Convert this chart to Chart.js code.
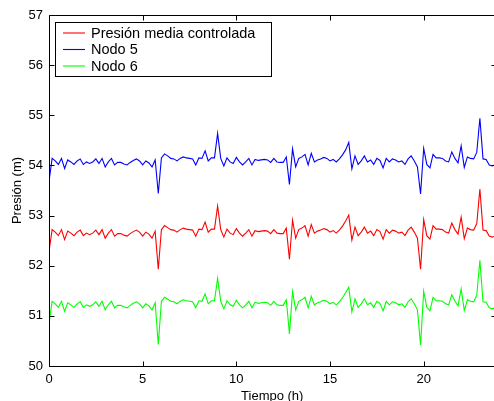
<!DOCTYPE html>
<html>
<head>
<meta charset="utf-8">
<script src="https://cdn.jsdelivr.net/npm/chart.js@4.4.1/dist/chart.umd.min.js"></script>
<style>
  html, body { margin: 0; padding: 0; background: #fff; overflow: hidden; }
</style>
</head>
<body>
<canvas id="chart1" width="496" height="401"></canvas>
<script>
// samples every 10 minutes, 0 .. 23:50
var paso = 1 / 6
var muestras = 144

var xTicks = [0, 5, 10, 15, 20]
var yTicks = [50, 51, 52, 53, 54, 55, 56, 57]

var nombres = ['Presión media controlada', 'Nodo 5', 'Nodo 6']
var colores = ['#ff0000', '#0000ff', '#00ff00']

var nodo5 = [
  53.68, 54.14, 54.09, 54.02, 54.14, 53.94, 54.11, 54.07, 54.02, 54.09, 54.13, 54.02,
  54.07, 54.04, 54.07, 54.13, 54.04, 54.14, 53.97, 54.07, 54.14, 54.01, 54.06, 54.06,
  54.03, 54.01, 54.06, 54.10, 54.13, 54.09, 54.01, 54.09, 54.05, 53.97, 54.11, 53.44,
  54.15, 54.23, 54.19, 54.14, 54.13, 54.09, 54.14, 54.17, 54.15, 54.14, 54.13, 54.01,
  54.15, 54.14, 54.29, 54.09, 54.15, 54.15, 54.64, 54.14, 53.99, 54.15, 54.07, 54.04,
  54.16, 54.07, 54.01, 54.07, 54.14, 54.01, 54.12, 54.10, 54.11, 54.12, 54.11, 54.06,
  54.14, 54.07, 54.06, 54.06, 54.17, 53.62, 54.33, 53.97, 54.14, 54.17, 54.22, 54.01,
  54.24, 54.07, 54.11, 54.13, 54.16, 54.14, 54.09, 54.12, 54.07, 54.13, 54.21, 54.31,
  54.46, 53.93, 54.19, 54.02, 54.09, 54.19, 54.07, 54.11, 54.02, 54.14, 54.10, 53.95,
  54.14, 54.07, 54.13, 54.11, 54.07, 54.09, 54.02, 54.13, 54.19, 54.09, 53.97, 53.43,
  54.34, 54.02, 53.95, 54.22, 54.15, 54.15, 54.14, 54.09, 54.07, 54.27, 54.14, 54.05,
  54.39, 53.96, 54.17, 54.14, 54.13, 54.26, 54.94, 54.13, 54.12, 54.01, 53.99, 54.02
]

var presionMedia = [
  52.28, 52.72, 52.67, 52.60, 52.72, 52.52, 52.69, 52.65, 52.60, 52.67, 52.71, 52.60,
  52.65, 52.62, 52.65, 52.71, 52.62, 52.72, 52.55, 52.65, 52.72, 52.59, 52.64, 52.64,
  52.61, 52.59, 52.64, 52.68, 52.71, 52.67, 52.59, 52.67, 52.63, 52.55, 52.69, 51.93,
  52.72, 52.80, 52.76, 52.72, 52.71, 52.67, 52.72, 52.75, 52.73, 52.72, 52.71, 52.59,
  52.73, 52.72, 52.87, 52.67, 52.73, 52.73, 53.19, 52.72, 52.57, 52.73, 52.65, 52.62,
  52.74, 52.65, 52.59, 52.65, 52.72, 52.59, 52.70, 52.68, 52.69, 52.70, 52.69, 52.64,
  52.72, 52.65, 52.64, 52.64, 52.75, 52.13, 52.91, 52.55, 52.72, 52.75, 52.80, 52.59,
  52.82, 52.65, 52.69, 52.71, 52.74, 52.72, 52.67, 52.70, 52.65, 52.71, 52.79, 52.89,
  53.01, 52.51, 52.77, 52.60, 52.67, 52.77, 52.65, 52.69, 52.60, 52.72, 52.68, 52.53,
  52.72, 52.65, 52.71, 52.69, 52.65, 52.67, 52.60, 52.71, 52.77, 52.67, 52.55, 51.93,
  52.92, 52.60, 52.53, 52.80, 52.73, 52.73, 52.72, 52.67, 52.65, 52.85, 52.72, 52.63,
  52.97, 52.54, 52.75, 52.72, 52.71, 52.84, 53.53, 52.71, 52.70, 52.59, 52.57, 52.60
]

var nodo6 = [
  50.85, 51.29, 51.24, 51.17, 51.29, 51.09, 51.26, 51.22, 51.17, 51.24, 51.28, 51.17,
  51.22, 51.19, 51.22, 51.28, 51.19, 51.29, 51.12, 51.22, 51.29, 51.16, 51.21, 51.21,
  51.18, 51.16, 51.21, 51.25, 51.28, 51.24, 51.16, 51.24, 51.20, 51.12, 51.26, 50.43,
  51.29, 51.37, 51.33, 51.29, 51.28, 51.24, 51.29, 51.32, 51.30, 51.29, 51.28, 51.16,
  51.30, 51.29, 51.44, 51.24, 51.30, 51.30, 51.75, 51.29, 51.14, 51.30, 51.22, 51.19,
  51.31, 51.22, 51.16, 51.22, 51.29, 51.16, 51.27, 51.25, 51.26, 51.27, 51.26, 51.21,
  51.29, 51.22, 51.21, 51.21, 51.32, 50.64, 51.48, 51.12, 51.29, 51.32, 51.37, 51.16,
  51.39, 51.22, 51.26, 51.28, 51.31, 51.29, 51.24, 51.27, 51.22, 51.28, 51.36, 51.46,
  51.57, 51.08, 51.34, 51.17, 51.24, 51.34, 51.22, 51.26, 51.17, 51.29, 51.25, 51.10,
  51.29, 51.22, 51.28, 51.26, 51.22, 51.24, 51.17, 51.28, 51.34, 51.24, 51.12, 50.42,
  51.49, 51.17, 51.10, 51.37, 51.30, 51.30, 51.29, 51.24, 51.22, 51.42, 51.29, 51.20,
  51.54, 51.11, 51.32, 51.29, 51.28, 51.41, 52.11, 51.28, 51.27, 51.16, 51.14, 51.17
]

var tiempo = Array.from({length: muestras}, (_, i) => i * paso)

function serie(valores){
  return valores.map((v, i) => ({x: tiempo[i], y: v}))
}

var familia = "'Liberation Sans', Arial, sans-serif"
var fuente = {family: familia, size: 13}

// box round the axes plus inward ticks on all four sides
const marco = {
  id: 'marco',
  afterDatasetsDraw(chart){
    const {ctx, chartArea: a, scales: {x, y}} = chart
    const L = Math.round(a.left) + 0.5, R = Math.round(a.right) + 0.5
    const T = Math.round(a.top) + 0.5, B = Math.round(a.bottom) + 0.5
    ctx.save()
    ctx.strokeStyle = '#000'
    ctx.lineWidth = 1
    ctx.beginPath()
    yTicks.forEach(v => {
      const py = Math.round(y.getPixelForValue(v)) + 0.5
      ctx.moveTo(L, py); ctx.lineTo(L + 5, py)
      ctx.moveTo(R, py); ctx.lineTo(R - 5, py)
    })
    xTicks.forEach(v => {
      const px = Math.round(x.getPixelForValue(v)) + 0.5
      ctx.moveTo(px, B); ctx.lineTo(px, B - 5)
      ctx.moveTo(px, T); ctx.lineTo(px, T + 5)
    })
    ctx.rect(L, T, R - L, B - T)
    ctx.stroke()
    ctx.restore()
  }
}

// legend box in the upper left corner of the plot
const leyenda = {
  id: 'leyenda',
  afterDraw(chart){
    const ctx = chart.ctx
    const bx = 55.5, by = 22.5, bw = 216, bh = 54
    ctx.save()
    ctx.fillStyle = '#fff'
    ctx.fillRect(bx, by, bw, bh)
    ctx.lineWidth = 1
    ctx.strokeStyle = '#000'
    ctx.strokeRect(bx, by, bw, bh)
    ctx.font = '14.5px ' + familia
    ctx.textBaseline = 'middle'
    ctx.lineWidth = 1.1
    nombres.forEach((nombre, i) => {
      const ry = 33 + i * 16.5
      ctx.beginPath()
      ctx.strokeStyle = colores[i]
      ctx.moveTo(63, ry)
      ctx.lineTo(85, ry)
      ctx.stroke()
      ctx.fillStyle = '#000'
      ctx.fillText(nombre, 91, ry + 0.5)
    })
    ctx.restore()
  }
}

const ctx = document.getElementById('chart1').getContext('2d')
const chart1 = new Chart(ctx, {
  type: 'line',
  data: {
    datasets: [
      {label: nombres[0], data: serie(presionMedia), borderColor: colores[0]},
      {label: nombres[1], data: serie(nodo5), borderColor: colores[1]},
      {label: nombres[2], data: serie(nodo6), borderColor: colores[2]}
    ]
  },
  options: {
    responsive: false,
    animation: false,
    layout: {padding: {top: 15, right: 0.5, left: 0, bottom: 0}},
    elements: {
      line: {borderWidth: 1.1, tension: 0},
      point: {radius: 0, hoverRadius: 0}
    },
    plugins: {legend: {display: false}, tooltip: {enabled: false}},
    scales: {
      x: {
        type: 'linear',
        min: 0,
        max: (muestras - 1) * paso,
        grid: {display: false, drawTicks: false},
        border: {display: false},
        ticks: {color: '#000', font: fuente, padding: 6, maxRotation: 0},
        afterBuildTicks: s => { s.ticks = xTicks.map(v => ({value: v})) },
        afterFit: s => { s.height = 35 },
        title: {display: true, text: 'Tiempo (h)', color: '#000', font: fuente, padding: {top: 0, bottom: -3.5}}
      },
      y: {
        min: 50,
        max: 57,
        grid: {display: false, drawTicks: false},
        border: {display: false},
        ticks: {color: '#000', font: fuente, padding: 6},
        afterBuildTicks: s => { s.ticks = yTicks.map(v => ({value: v})) },
        afterFit: s => { s.width = 49 },
        title: {display: true, text: 'Presión (m)', color: '#000', font: fuente, padding: {top: 10, bottom: 0}}
      }
    }
  },
  plugins: [marco, leyenda]
})
</script>
</body>
</html>
